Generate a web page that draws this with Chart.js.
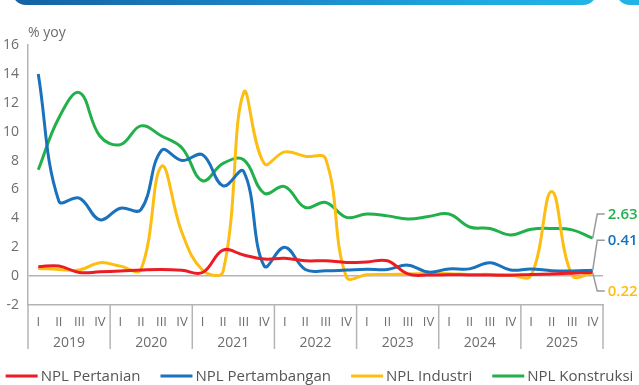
<!DOCTYPE html>
<html>
<head>
<meta charset="utf-8">
<script src="https://cdn.jsdelivr.net/npm/chart.js@4.4.1/dist/chart.umd.min.js"></script>
<style>
  html, body { margin: 0; padding: 0; background: #fff; }
  #wrap { position: relative; width: 639px; height: 385px; overflow: hidden; }
  .band { position: absolute; top: -20px; height: 25px; }
  #band1 { left: 12px; width: 585px; border-radius: 0 0 14px 14px;
           background: linear-gradient(90deg, #1462a3 0%, #1a86c8 45%, #1fa9e0 80%, #22b4e8 100%); }
  #band2 { left: 616px; width: 40px; border-radius: 0 0 0 14px; background: #21b2e8; }
  canvas { position: absolute; left: 0; top: 0; }
</style>
</head>
<body>
<div id="wrap">
  <div class="band" id="band1"></div>
  <div class="band" id="band2"></div>
  <canvas id="chart" width="639" height="385"></canvas>
</div>
<script>
// Quarterly NPL ratios by sector, 2019 Q1 – 2025 Q4 (% yoy)
const years = ['2019', '2020', '2021', '2022', '2023', '2024', '2025'];
const quarters = ['I', 'II', 'III', 'IV'];

const nplPertanian = [
  0.65, 0.70, 0.25, 0.30,
  0.35, 0.42, 0.46, 0.40,
  0.25, 1.80, 1.46, 1.18,
  1.23, 1.06, 1.06, 0.95,
  0.98, 1.06, 0.15, 0.07,
  0.10, 0.08, 0.07, 0.06,
  0.12, 0.15, 0.20, 0.25
];
const nplPertambangan = [
  14.0, 5.20, 5.40, 3.90,
  4.70, 4.60, 8.70, 8.00,
  8.40, 6.25, 7.25, 0.70,
  2.00, 0.46, 0.37, 0.42,
  0.48, 0.46, 0.76, 0.28,
  0.50, 0.50, 0.93, 0.42,
  0.50, 0.37, 0.35, 0.41
];
const nplIndustri = [
  0.53, 0.46, 0.42, 0.93,
  0.69, 0.46, 7.60, 3.00,
  0.42, 0.32, 12.7, 7.80,
  8.60, 8.30, 8.10, -0.05,
  0.10, 0.12, 0.15, 0.17,
  0.17, 0.12, 0.12, 0.07,
  0.05, 5.85, 0.05, 0.22
];
const nplKonstruksi = [
  7.36, 10.95, 12.7, 9.70,
  9.10, 10.40, 9.70, 8.87,
  6.60, 7.80, 8.05, 5.74,
  6.20, 4.75, 5.10, 4.07,
  4.30, 4.17, 3.96, 4.12,
  4.30, 3.40, 3.30, 2.85,
  3.24, 3.30, 3.20, 2.63
];

const labels = years.flatMap(() => quarters);

const GRAY_LINE = '#b4b4b4';
const GRAY_TEXT = '#6d6d6d';
const FONT = '"Open Sans", "Noto Sans", sans-serif';

// Callouts for the latest values: dataset index and vertical offset of the tag
const callouts = [
  { ds: 3, dy: -24 },
  { ds: 1, dy: -30 },
  { ds: 2, dy: 18 }
];

const decorations = {
  id: 'decorations',
  afterDraw(chart) {
    const { ctx, chartArea: a, scales: { x } } = chart;
    ctx.save();

    // year separators below the axis
    ctx.strokeStyle = GRAY_LINE;
    ctx.lineWidth = 1.5;
    const bounds = [];
    for (let k = 0; k <= years.length; k++) {
      let px;
      if (k === 0) px = a.left;
      else if (k === years.length) px = a.right;
      else px = (x.getPixelForValue(k * 4 - 1) + x.getPixelForValue(k * 4)) / 2;
      bounds.push(px);
      ctx.beginPath();
      ctx.moveTo(px, a.bottom);
      ctx.lineTo(px, a.bottom + 44);
      ctx.stroke();
    }

    // year labels
    ctx.fillStyle = GRAY_TEXT;
    ctx.font = '14px ' + FONT;
    ctx.textAlign = 'center';
    ctx.textBaseline = 'middle';
    years.forEach((yr, k) => {
      ctx.fillText(yr, (bounds[k] + bounds[k + 1]) / 2, a.bottom + 38);
    });

    // unit label
    ctx.textAlign = 'left';
    ctx.font = '14px ' + FONT;
    ctx.fillText('% yoy', a.left, 33);

    // latest-value callouts
    callouts.forEach(c => {
      const ds = chart.data.datasets[c.ds];
      const meta = chart.getDatasetMeta(c.ds);
      const pt = meta.data[meta.data.length - 1];
      const v = ds.data[ds.data.length - 1];
      const ty = pt.y + c.dy;
      ctx.strokeStyle = '#9a9a9a';
      ctx.lineWidth = 1.5;
      ctx.beginPath();
      ctx.moveTo(pt.x, pt.y);
      ctx.lineTo(pt.x + 4.5, ty);
      ctx.lineTo(pt.x + 12, ty);
      ctx.stroke();
      ctx.fillStyle = ds.borderColor;
      ctx.font = '600 15px ' + FONT;
      ctx.textAlign = 'left';
      ctx.fillText(v.toFixed(2), pt.x + 15, ty + 1);
    });

    // legend
    ctx.font = '15px ' + FONT;
    const items = chart.data.datasets.map(d => ({
      text: d.label, color: d.borderColor, w: ctx.measureText(d.label).width
    }));
    const sw = 32, gap = 3, sep = 20;
    const total = items.reduce((s, it) => s + sw + gap + it.w, 0) + sep * (items.length - 1);
    let lx = (chart.width - total) / 2;
    const ly = 376;
    items.forEach(it => {
      ctx.fillStyle = it.color;
      ctx.fillRect(lx, ly - 1.5, sw, 3);
      lx += sw + gap;
      ctx.fillStyle = '#555';
      ctx.textAlign = 'left';
      ctx.fillText(it.text, lx, ly + 1);
      lx += it.w + sep;
    });

    ctx.restore();
  }
};

const line = (label, data, color) => ({
  label, data,
  borderColor: color,
  backgroundColor: color,
  borderWidth: 3,
  pointRadius: 0,
  pointHoverRadius: 0,
  tension: 0.4,
  fill: false
});

new Chart(document.getElementById('chart'), {
  type: 'line',
  data: {
    labels,
    datasets: [
      line('NPL Pertanian', nplPertanian, '#ec1c24'),
      line('NPL Pertambangan', nplPertambangan, '#1a72bd'),
      line('NPL Industri', nplIndustri, '#fdbe14'),
      line('NPL Konstruksi', nplKonstruksi, '#22b04b')
    ]
  },
  options: {
    responsive: false,
    animation: false,
    devicePixelRatio: 1,
    layout: { padding: { top: 45, right: 36, bottom: 32, left: 0 } },
    plugins: {
      legend: { display: false },
      tooltip: { enabled: false }
    },
    scales: {
      x: {
        offset: true,
        grid: { display: false, drawTicks: false },
        border: { display: true, color: GRAY_LINE, width: 1.5 },
        ticks: {
          color: GRAY_TEXT,
          font: { family: FONT, size: 13 },
          padding: 9,
          maxRotation: 0,
          autoSkip: false
        },
        afterFit(s) { s.height = 48; }
      },
      y: {
        min: -2,
        max: 16,
        grid: {
          drawTicks: false,
          lineWidth: 1.5,
          color: c => (c.tick && c.tick.value === 0) ? GRAY_LINE : 'rgba(0,0,0,0)'
        },
        border: { display: true, color: GRAY_LINE, width: 1.5 },
        ticks: {
          stepSize: 2,
          color: GRAY_TEXT,
          font: { family: FONT, size: 14 },
          padding: 9
        },
        afterFit(s) { s.width = 28; }
      }
    }
  },
  plugins: [decorations]
});
</script>
</body>
</html>
